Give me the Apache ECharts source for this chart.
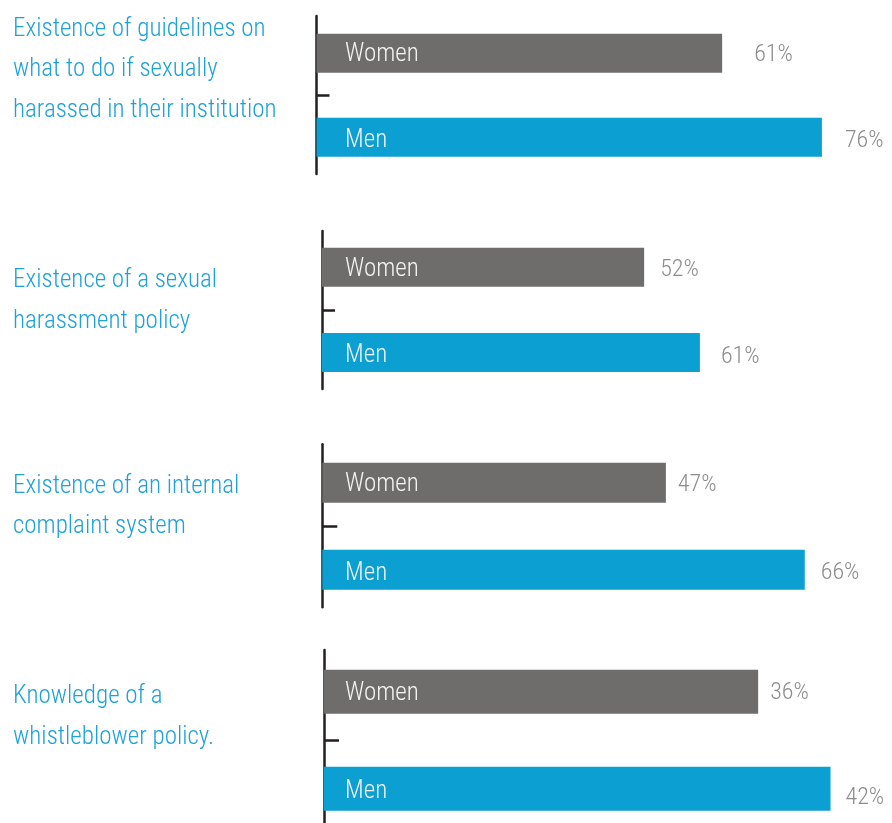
<!DOCTYPE html>
<html><head><meta charset="utf-8">
<script src="https://cdn.jsdelivr.net/npm/echarts@6/dist/echarts.min.js"></script>
<style>html,body{margin:0;padding:0;background:#fff}#c{width:892px;height:823px}</style>
</head><body><div id="c"></div>
<script>
// ---- data ----
const questions = [
  'Existence of guidelines on\nwhat to do if sexually\nharassed in their institution',
  'Existence of a sexual\nharassment policy',
  'Existence of an internal\ncomplaint system',
  'Knowledge of a\nwhistleblower policy.'
];
const groups = ['Women', 'Men'];
const womenValues = [61, 52, 47, 36];
const menValues = [76, 61, 66, 42];

// ---- styles / layout (kept separate from data) ----
const H = 823;
const FONT = '"Roboto Condensed", "Liberation Sans Narrow", "DejaVu Sans Condensed", sans-serif';
const WEIGHT = 300;
const groupColors = ['#6e6d6c', '#0b9fd2'];
const titleColor = '#1da1d8';
const valueColor = '#8c8c8c';
const axisColor = '#231f20';
const catLabelShift = [2, 3.5]; // px downward shift of in-bar labels (Women, Men)
// c0/c1: vertical centres of the two bars; line: axis line extent
const layout = [
  {x: 316.5, lineTop: 16,    lineH: 158, c0: 53.2,  c1: 137.2, barW: 39, pxPer: 6.65,  max: 80, tick: 13, titleTop: 9.5,   dist: [32, 23], off: [2, 4]},
  {x: 322,   lineTop: 231,   lineH: 158, c0: 267.3, c1: 352.5, barW: 39, pxPer: 6.195, max: 80, tick: 13, titleTop: 260.8, dist: [16, 21], off: [3, 4.5]},
  {x: 322.3, lineTop: 444.3, lineH: 163, c0: 482.8, c1: 569.8, barW: 40, pxPer: 7.31,  max: 70, tick: 15, titleTop: 466.5, dist: [12, 16], off: [2.5, 3]},
  {x: 324,   lineTop: 650,   lineH: 180, c0: 691.7, c1: 788.7, barW: 44, pxPer: 12.06, max: 45, tick: 15, titleTop: 676.8, dist: [12, 15], off: [1, 9]}
];

const grid = [], xAxis = [], yAxis = [], series = [], title = [];
layout.forEach((L) => {
  const visH = Math.min(L.lineH, H - L.lineTop);
  L.yMax = 2 * visH / L.lineH;
  grid.push({left: L.x, top: L.c0, height: L.c1 - L.c0, width: L.max * L.pxPer, containLabel: false});
  grid.push({left: L.x, top: L.lineTop, height: visH, width: 10, containLabel: false});
});
const labelRich = {};
groups.forEach((g, k) => {
  labelRich['g' + k] = {color: '#f4f4f4', fontSize: 25, fontWeight: WEIGHT, fontFamily: FONT, lineHeight: 2 * catLabelShift[k]};
});
layout.forEach((L, i) => {
  const gA = i * 2, gB = i * 2 + 1;
  xAxis.push({type: 'value', gridIndex: gA, min: 0, max: L.max, show: false});
  xAxis.push({type: 'value', gridIndex: gB, min: 0, max: 1, show: false});
  yAxis.push({
    type: 'category', gridIndex: gA, data: groups, inverse: true, boundaryGap: false, z: 10,
    axisLine: {show: false}, axisTick: {show: false}, splitLine: {show: false},
    axisLabel: {
      inside: true, margin: 345 - L.x, verticalAlign: 'top',
      formatter: (v, idx) => '{g' + groups.indexOf(v) + '|' + v + '}',
      rich: labelRich
    }
  });
  yAxis.push({
    type: 'value', gridIndex: gB, min: 0, max: L.yMax, inverse: true,
    axisLine: {show: true, lineStyle: {color: axisColor, width: 2.5}},
    axisTick: {show: true, inside: true, length: L.tick, customValues: [1], lineStyle: {color: axisColor, width: 2.5}},
    axisLabel: {show: false}, splitLine: {show: false}
  });
  const vals = [womenValues[i], menValues[i]];
  series.push({
    type: 'bar', xAxisIndex: gA, yAxisIndex: gA, barWidth: L.barW, clip: false, animation: false,
    data: vals.map((v, k) => ({
      value: v,
      itemStyle: {color: groupColors[k]},
      label: {distance: L.dist[k], offset: [0, L.off[k]]}
    })),
    label: {show: true, position: 'right', formatter: '{c}%', color: valueColor, fontSize: 24, fontWeight: WEIGHT, fontFamily: FONT}
  });
  title.push({
    text: questions[i], left: 13, top: L.titleTop, padding: 0,
    textStyle: {fontSize: 25, lineHeight: 40.4, color: titleColor, fontWeight: WEIGHT, fontFamily: FONT}
  });
});

const chart = echarts.init(document.getElementById('c'), null, {renderer: 'canvas'});
chart.setOption({backgroundColor: '#fff', animation: false, title, grid, xAxis, yAxis, series});
</script>
</body></html>
